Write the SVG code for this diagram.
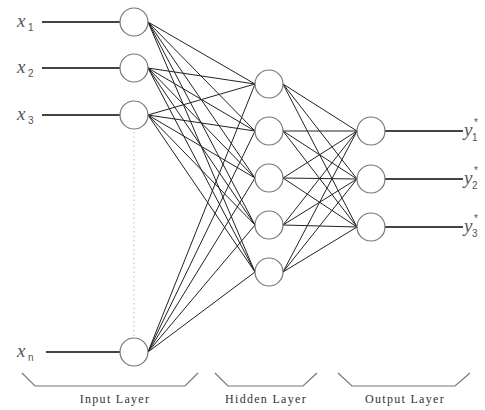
<svg xmlns="http://www.w3.org/2000/svg" width="485" height="410" viewBox="0 0 485 410">
<style>
.node{fill:#fff;stroke:#777;stroke-width:1.2}
.edge{stroke:#222;stroke-width:1;fill:none}
.io{stroke:#444;stroke-width:2;fill:none}
.br{stroke:#777;stroke-width:1.2;fill:none}
.var{font-family:"Liberation Serif",serif;font-style:italic;font-size:19px;fill:#555}
.sub{font-family:"Liberation Sans",sans-serif;font-size:10px;fill:#555}
.lab{font-family:"Liberation Serif",serif;font-size:12px;fill:#333;letter-spacing:1.3px}
</style>
<rect width="485" height="410" fill="#fff"/>
<g id="connectors">
<g class="edge">
<line x1="148" y1="22" x2="255" y2="84"/><line x1="148" y1="22" x2="255" y2="131"/><line x1="148" y1="22" x2="255" y2="178"/><line x1="148" y1="22" x2="255" y2="225"/><line x1="148" y1="22" x2="255" y2="272"/>
<line x1="148" y1="68" x2="255" y2="84"/><line x1="148" y1="68" x2="255" y2="131"/><line x1="148" y1="68" x2="255" y2="178"/><line x1="148" y1="68" x2="255" y2="225"/><line x1="148" y1="68" x2="255" y2="272"/>
<line x1="148" y1="115" x2="255" y2="84"/><line x1="148" y1="115" x2="255" y2="131"/><line x1="148" y1="115" x2="255" y2="178"/><line x1="148" y1="115" x2="255" y2="225"/><line x1="148" y1="115" x2="255" y2="272"/>
<line x1="148" y1="352" x2="255" y2="84"/><line x1="148" y1="352" x2="255" y2="131"/><line x1="148" y1="352" x2="255" y2="178"/><line x1="148" y1="352" x2="255" y2="225"/><line x1="148" y1="352" x2="255" y2="272"/>
<line x1="283" y1="84" x2="357" y2="131"/><line x1="283" y1="84" x2="357" y2="179"/><line x1="283" y1="84" x2="357" y2="227"/>
<line x1="283" y1="131" x2="357" y2="131"/><line x1="283" y1="131" x2="357" y2="179"/><line x1="283" y1="131" x2="357" y2="227"/>
<line x1="283" y1="178" x2="357" y2="131"/><line x1="283" y1="178" x2="357" y2="179"/><line x1="283" y1="178" x2="357" y2="227"/>
<line x1="283" y1="225" x2="357" y2="131"/><line x1="283" y1="225" x2="357" y2="179"/><line x1="283" y1="225" x2="357" y2="227"/>
<line x1="283" y1="272" x2="357" y2="131"/><line x1="283" y1="272" x2="357" y2="179"/><line x1="283" y1="272" x2="357" y2="227"/>
</g>
<g class="io">
<line x1="42" y1="22" x2="120" y2="22"/><line x1="42" y1="68" x2="120" y2="68"/><line x1="42" y1="115" x2="120" y2="115"/><line x1="46" y1="352" x2="120" y2="352"/>
<line x1="385" y1="131" x2="463" y2="131"/><line x1="385" y1="179" x2="463" y2="179"/><line x1="385" y1="227" x2="463" y2="227"/>
</g>
<line x1="134" y1="132" x2="134" y2="336" stroke="#bbb" stroke-width="1" stroke-dasharray="1.5,3"/>
</g>
<g id="in1"><circle class="node" cx="134" cy="22" r="14"/><text class="var" x="17" y="27">x</text><text class="sub" x="28" y="31">1</text></g>
<g id="in2"><circle class="node" cx="134" cy="68" r="14"/><text class="var" x="17" y="73">x</text><text class="sub" x="28" y="77">2</text></g>
<g id="in3"><circle class="node" cx="134" cy="115" r="14"/><text class="var" x="17" y="120">x</text><text class="sub" x="28" y="124">3</text></g>
<g id="inn"><circle class="node" cx="134" cy="352" r="14"/><text class="var" x="17" y="357">x</text><text class="sub" x="28" y="361">n</text></g>
<g id="h1"><circle class="node" cx="269" cy="84" r="14"/></g>
<g id="h2"><circle class="node" cx="269" cy="131" r="14"/></g>
<g id="h3"><circle class="node" cx="269" cy="178" r="14"/></g>
<g id="h4"><circle class="node" cx="269" cy="225" r="14"/></g>
<g id="h5"><circle class="node" cx="269" cy="272" r="14"/></g>
<g id="o1"><circle class="node" cx="371" cy="131" r="14"/><text class="var" x="464" y="136">y</text><text class="sub" x="474" y="126">*</text><text class="sub" x="472" y="141">1</text></g>
<g id="o2"><circle class="node" cx="371" cy="179" r="14"/><text class="var" x="464" y="184">y</text><text class="sub" x="474" y="174">*</text><text class="sub" x="472" y="189">2</text></g>
<g id="o3"><circle class="node" cx="371" cy="227" r="14"/><text class="var" x="464" y="232">y</text><text class="sub" x="474" y="222">*</text><text class="sub" x="472" y="237">3</text></g>
<g id="input-layer"><polyline class="br" points="22,373 35,386 185,386 198,373"/><text class="lab" x="115" y="403" text-anchor="middle">Input Layer</text></g>
<g id="hidden-layer"><polyline class="br" points="215,373 228,386 303,386 317,373"/><text class="lab" x="266" y="403" text-anchor="middle">Hidden Layer</text></g>
<g id="output-layer"><polyline class="br" points="338,373 352,386 455,386 470,373"/><text class="lab" x="405" y="403" text-anchor="middle">Output Layer</text></g>
</svg>
